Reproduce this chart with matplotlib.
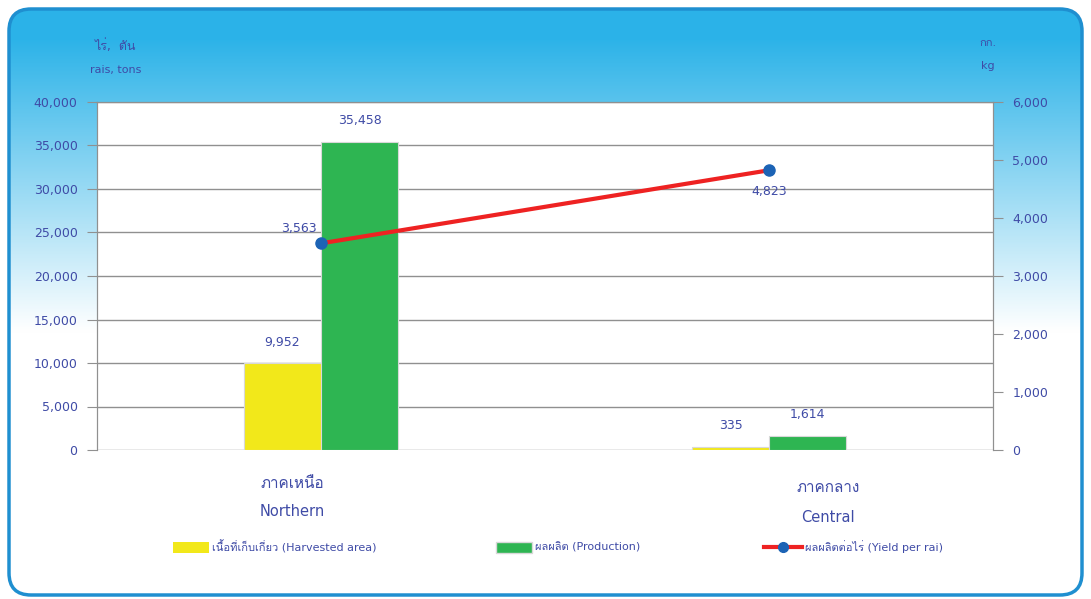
import matplotlib
matplotlib.use('Agg')
import matplotlib.pyplot as plt
from matplotlib import font_manager
from matplotlib.ft2font import FT2Font
from matplotlib.patches import FancyBboxPatch
import numpy as np

# Data
regions_th = ['ภาคเหนือ', 'ภาคกลาง']
regions_en = ['Northern', 'Central']
harvested = [9952, 335]
production = [35458, 1614]
yield_rai = [3563, 4823]

# find a font that can draw Thai
thai_font = None
for f in font_manager.fontManager.ttflist:
    try:
        if 0x0E01 in FT2Font(f.fname).get_charmap():
            thai_font = f.name
            break
    except Exception:
        pass
families = ['DejaVu Sans'] + ([thai_font] if thai_font else [])
plt.rcParams['font.family'] = families

txt = '#3F4BA6'
fig = plt.figure(figsize=(10.91, 5.99), dpi=100)

# background with rounded frame and blue-to-white gradient
bg = fig.add_axes([0, 0, 1, 1])
bg.set_xlim(0, 1091)
bg.set_ylim(599, 0)
bg.axis('off')
grad = np.linspace(0, 1, 256).reshape(-1, 1)
grad = np.clip((grad - 0.05) / 0.5, 0, 1)
top = np.array([0.17, 0.70, 0.91])
bot = np.array([1.0, 1.0, 1.0])
img = top + (bot - top) * grad[..., None]
im = bg.imshow(img, extent=[8, 1084, 596, 8], aspect='auto', zorder=1)
frame = FancyBboxPatch((9, 9), 1073, 586, boxstyle='round,pad=0,rounding_size=22',
                       facecolor='none', edgecolor='#1f8fd0', linewidth=2.5, zorder=2)
bg.add_patch(frame)
im.set_clip_path(frame)

ax = fig.add_axes([97 / 1091, 1 - 450 / 599, 896 / 1091, 348 / 599])
ax.set_facecolor('white')
ax2 = ax.twinx()

x = np.arange(len(regions_en))
w = 0.172
ax.bar(x - w / 2, harvested, w, color='#F2E81A', edgecolor='#d8d8d8', linewidth=0.8, zorder=3)
ax.bar(x + w / 2, production, w, color='#2EB552', edgecolor='#d8d8d8', linewidth=0.8, zorder=3)
ax.set_xlim(-0.5, 1.5)
ax.set_ylim(0, 40000)
ax.set_yticks(range(0, 40001, 5000))
ax.set_yticklabels([f'{v:,}' for v in range(0, 40001, 5000)])
ax.grid(axis='y', color='#909090', linewidth=1, zorder=0)
ax.set_axisbelow(True)
ax.set_xticks([])

for i in range(len(x)):
    ax.text(x[i] - w / 2, harvested[i] + 1700, f'{harvested[i]:,}', ha='center', va='bottom',
            color=txt, fontsize=9)
    ax.text(x[i] + w / 2, production[i] + 1700, f'{production[i]:,}', ha='center', va='bottom',
            color=txt, fontsize=9)

ax2.plot(x, yield_rai, color='#EE2222', linewidth=3, marker='o', markersize=8,
         markerfacecolor='#1C63B5', markeredgecolor='#1C63B5', zorder=5)
ax2.set_ylim(0, 6000)
ax2.set_yticks(range(0, 6001, 1000))
ax2.set_yticklabels([f'{v:,}' for v in range(0, 6001, 1000)])
ax2.text(x[0] - 0.05, yield_rai[0] + 150, f'{yield_rai[0]:,}', ha='center', va='bottom',
         color=txt, fontsize=9)
ax2.text(x[1], yield_rai[1] - 250, f'{yield_rai[1]:,}', ha='center', va='top',
         color=txt, fontsize=9)

for a in (ax, ax2):
    for s in ('top', 'bottom', 'left', 'right'):
        a.spines[s].set_color('#909090')
    a.spines['bottom'].set_visible(False)
    a.tick_params(axis='y', colors='#909090', labelcolor=txt, labelsize=9, length=7, pad=7)

# axis units
fig.text(116 / 1091, 1 - 46 / 599, 'ไร่,  ตัน', ha='center', va='center', color=txt, fontsize=9)
fig.text(116 / 1091, 1 - 70 / 599, 'rais, tons', ha='center', va='center', color=txt, fontsize=8)
fig.text(988 / 1091, 1 - 43 / 599, 'กก.', ha='center', va='center', color=txt, fontsize=8)
fig.text(988 / 1091, 1 - 66 / 599, 'kg', ha='center', va='center', color=txt, fontsize=8)

# category labels
fig.text(292 / 1091, 1 - 484 / 599, regions_th[0], ha='center', va='center', color=txt, fontsize=11)
fig.text(292 / 1091, 1 - 512 / 599, regions_en[0], ha='center', va='center', color=txt, fontsize=10.5)
fig.text(828 / 1091, 1 - 488 / 599, regions_th[1], ha='center', va='center', color=txt, fontsize=11)
fig.text(828 / 1091, 1 - 517 / 599, regions_en[1], ha='center', va='center', color=txt, fontsize=10.5)

# legend
bg.add_patch(plt.Rectangle((173, 542), 36, 11, facecolor='#F2E81A', zorder=3))
bg.text(212, 547, 'เนื้อที่เก็บเกี่ยว (Harvested area)', va='center', color=txt, fontsize=8, zorder=3)
bg.add_patch(plt.Rectangle((496, 542), 36, 11, facecolor='#2EB552', edgecolor='#d8d8d8', zorder=3))
bg.text(535, 547, 'ผลผลิต (Production)', va='center', color=txt, fontsize=8, zorder=3)
bg.plot([764, 802], [547, 547], color='#EE2222', linewidth=3, zorder=3)
bg.plot([783], [547], 'o', color='#1C63B5', markersize=7, zorder=4)
bg.text(805, 547, 'ผลผลิตต่อไร่ (Yield per rai)', va='center', color=txt, fontsize=8, zorder=3)

fig.savefig('out.png', dpi=100)
